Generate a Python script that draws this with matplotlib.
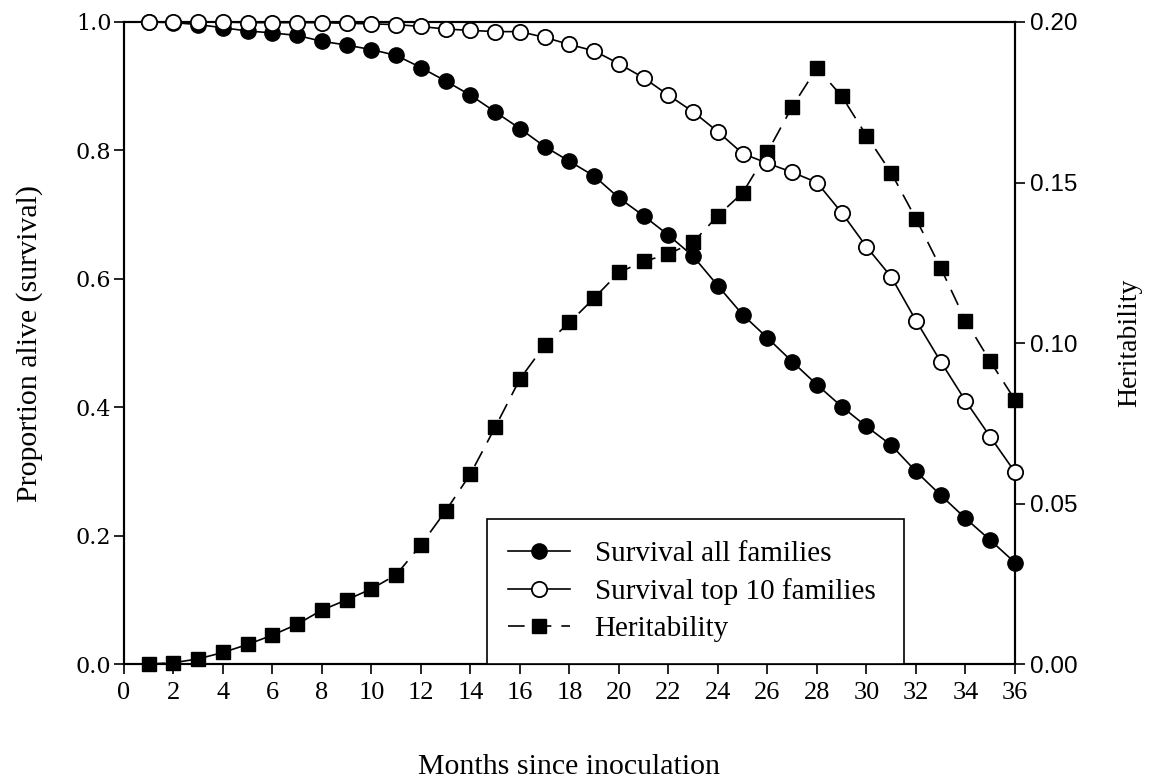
import matplotlib
matplotlib.use("Agg")
import matplotlib.pyplot as plt
import numpy as np

# meses desde la inoculacion
meses = np.arange(1, 37)

# supervivencia de todas las familias
sup_todas = [1.000, 0.999, 0.996, 0.991, 0.986, 0.983, 0.979, 0.970, 0.964, 0.957,
             0.948, 0.929, 0.908, 0.886, 0.860, 0.834, 0.806, 0.783, 0.760, 0.726,
             0.698, 0.668, 0.635, 0.589, 0.544, 0.508, 0.471, 0.435, 0.401, 0.370,
             0.341, 0.300, 0.263, 0.227, 0.193, 0.158]

# supervivencia de las 10 mejores familias
sup_top10 = [1.000, 1.000, 1.000, 1.000, 0.999, 0.999, 0.999, 0.999, 0.998, 0.997,
             0.996, 0.993, 0.989, 0.987, 0.985, 0.985, 0.976, 0.965, 0.955, 0.935,
             0.913, 0.886, 0.860, 0.829, 0.795, 0.780, 0.766, 0.750, 0.703, 0.650,
             0.603, 0.535, 0.471, 0.410, 0.354, 0.299]

# heredabilidad (eje derecho)
heredabilidad = [0.0000, 0.0004, 0.0016, 0.0036, 0.0061, 0.0090, 0.0124, 0.0168, 0.0200, 0.0234,
                 0.0278, 0.0371, 0.0477, 0.0592, 0.0738, 0.0888, 0.0993, 0.1064, 0.1140, 0.1220,
                 0.1254, 0.1277, 0.1314, 0.1397, 0.1468, 0.1595, 0.1736, 0.1857, 0.1769, 0.1646,
                 0.1530, 0.1387, 0.1234, 0.1070, 0.0943, 0.0823]

serif = "Liberation Serif"

fig = plt.figure(figsize=(11.51, 7.80), dpi=100)
ax = fig.add_axes([0.1077, 0.1487, 0.7741, 0.8231])
ax2 = ax.twinx()

l3, = ax2.plot(meses, heredabilidad, color="black", lw=1.2, dashes=(10, 6),
               marker="s", ms=10.3, mfc="black", mec="black", zorder=2, clip_on=False)
l1, = ax.plot(meses, sup_todas, color="black", lw=1.2, marker="o", ms=11,
              mfc="black", mec="black", zorder=3, clip_on=False)
l2, = ax.plot(meses, sup_top10, color="black", lw=1.2, marker="o", ms=11,
              mfc="white", mec="black", mew=1.3, zorder=4, clip_on=False)

# el eje izquierdo por encima del derecho
ax.set_zorder(ax2.get_zorder() + 1)
ax.patch.set_visible(False)

ax.set_xlim(0, 36)
ax.set_ylim(0, 1.0)
ax2.set_ylim(0, 0.20)
ax.set_xticks(np.arange(0, 37, 2))
ax.set_yticks(np.arange(0, 1.01, 0.2))
ax.set_yticklabels(["%.1f" % v for v in np.arange(0, 1.01, 0.2)], family="DejaVu Serif", fontsize=16)
ax2.set_yticks(np.arange(0, 0.201, 0.05))
ax2.set_yticklabels(["%.2f" % v for v in np.arange(0, 0.201, 0.05)], family="Liberation Sans", fontsize=17.5)
ax.set_xticklabels([str(v) for v in range(0, 37, 2)], family=serif, fontsize=19)

for a in (ax, ax2):
    a.tick_params(direction="out", length=7, width=1.2, pad=4)
    for s in a.spines.values():
        s.set_linewidth(1.5)
ax.tick_params(axis="x", pad=6)
ax.tick_params(axis="y", pad=2)

ax.set_xlabel("Months since inoculation", family=serif, fontsize=21.5, labelpad=36)
ax.set_ylabel("Proportion alive (survival)", family=serif, fontsize=21.5, labelpad=24)
ax2.set_ylabel("Heritability", family=serif, fontsize=20, labelpad=28)

leg = ax.legend([l1, l2, l3], ["Survival all families", "Survival top 10 families", "Heritability"],
                loc="lower left", bbox_to_anchor=(0.407, 0.0, 0.468, 0.229), mode="expand",
                borderaxespad=0, prop={"family": serif, "size": 21}, fancybox=False,
                edgecolor="black", framealpha=1, handlelength=2.1, borderpad=0.75,
                labelspacing=0.37, handletextpad=0.85)
leg.get_frame().set_linewidth(1.2)

fig.savefig("out.png", dpi=100)
